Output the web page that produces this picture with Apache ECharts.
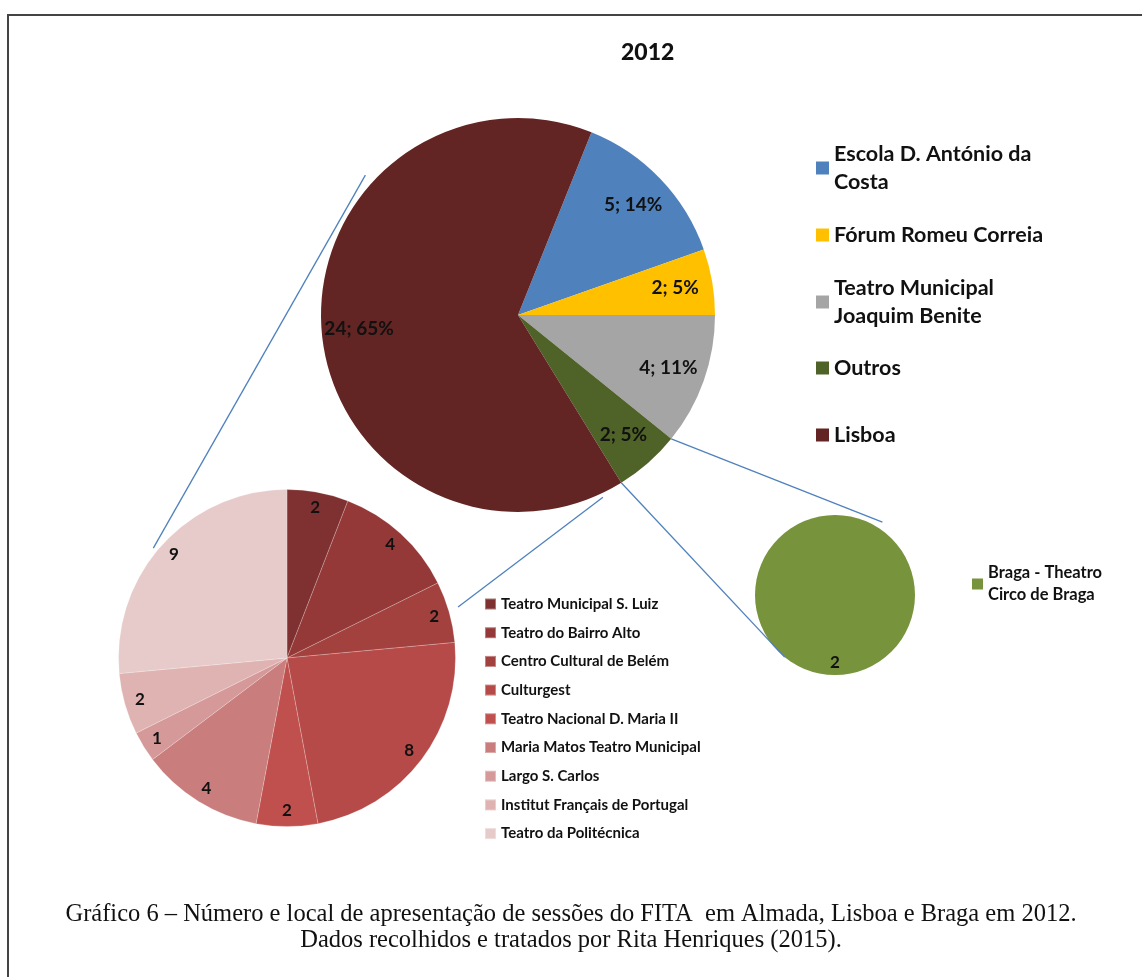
<!DOCTYPE html>
<html>
<head>
<meta charset="utf-8">
<script src="https://cdn.jsdelivr.net/npm/echarts@6/dist/echarts.min.js"></script>
<style>
  html, body { margin: 0; padding: 0; background: #fff; }
  #chart { width: 1142px; height: 977px; }
</style>
</head>
<body>
<div id="chart"></div>
<script>
// dados principais (2012)
var mainNames = ['Escola D. António da Costa', 'Fórum Romeu Correia', 'Teatro Municipal Joaquim Benite', 'Outros', 'Lisboa'];
var mainValues = [5, 2, 4, 2, 24];
var mainColors = ['#4f81bd', '#ffc000', '#a5a5a5', '#4f6228', '#632523'];

// Lisboa
var lisNames = ['Teatro Municipal S. Luiz', 'Teatro do Bairro Alto', 'Centro Cultural de Belém', 'Culturgest',
  'Teatro Nacional D. Maria II', 'Maria Matos Teatro Municipal', 'Largo S. Carlos',
  'Institut Français de Portugal', 'Teatro da Politécnica'];
var lisValues = [2, 4, 2, 8, 2, 4, 1, 2, 9];
var lisColors = ['#7f3131', '#943937', '#a3413f', '#b54a48', '#c0504d', '#c97d7c', '#d5999a', '#dfb3b2', '#e6cbca'];

// Outros
var bragaNames = ['Braga - Theatro Circo de Braga'];
var bragaValues = [2];
var bragaColors = ['#77933c'];

// legendas com quebra de linha como no original
var legendText = {
  'Escola D. António da Costa': 'Escola D. António da\nCosta',
  'Teatro Municipal Joaquim Benite': 'Teatro Municipal\nJoaquim Benite',
  'Braga - Theatro Circo de Braga': 'Braga - Theatro\nCirco de Braga'
};

var FONT = 'Lato';
var mainC = [518, 315], mainR = 197;
var lisC = [287, 658], lisR = 168.5;
var braC = [835, 595], braR = 80;
var mainStart = 21.9; // graus a partir do norte, sentido horario

function mkData(names, values, colors) {
  return names.map(function (n, i) {
    return { name: n, value: values[i], itemStyle: { color: colors[i] } };
  });
}
function pt(c, r, deg) {
  var a = deg * Math.PI / 180;
  return [c[0] + r * Math.sin(a), c[1] - r * Math.cos(a)];
}
function line(p1, p2) {
  return {
    type: 'line', silent: true, z: 10,
    shape: { x1: p1[0], y1: p1[1], x2: p2[0], y2: p2[1] },
    style: { stroke: '#4f81bd', lineWidth: 1.3 }
  };
}

// angulos das fronteiras da fatia "Outros"
var total = mainValues.reduce(function (a, b) { return a + b; }, 0);
var cum = mainStart, bounds = [];
mainValues.forEach(function (v) { cum += v / total * 360; bounds.push(cum); });
var outrosStart = bounds[2], outrosEnd = bounds[3];

var chart = echarts.init(document.getElementById('chart'));

function legendFor(name, left, top, size, lh, fs, twoLines) {
  return {
    data: [name],
    left: left, top: top, orient: 'vertical', padding: 0,
    itemWidth: size, itemHeight: size, icon: 'rect',
    selectedMode: false,
    formatter: function (n) { return legendText[n] || n; },
    textStyle: {
      fontFamily: FONT, fontWeight: 'bold', fontSize: fs, color: '#111',
      lineHeight: lh, padding: twoLines ? [lh, 0, 0, 0] : 0
    }
  };
}

var labelSeries = function (names, values, center, r0, r1, startDeg, fs, fmt) {
  return {
    type: 'pie', center: center, radius: [r0, r1], startAngle: 90 - startDeg, clockwise: true,
    silent: true, legendHoverLink: false, z: 5,
    data: names.map(function (n, i) { return { name: n, value: values[i] }; }),
    itemStyle: { color: 'rgba(0,0,0,0)' },
    label: { show: true, position: 'inside', fontFamily: FONT, fontWeight: 'bold', fontSize: fs, color: '#111', formatter: fmt },
    labelLine: { show: false },
    emphasis: { disabled: true }
  };
};

var option = {
  animation: false,
  backgroundColor: '#fff',
  title: {
    text: '2012', left: 621, top: 41, padding: 0,
    textStyle: { fontFamily: FONT, fontWeight: 900, fontSize: 23, color: '#111' }
  },
  legend: [
    legendFor(mainNames[0], 816, 168 - 42, 13, 28, 21.5, true),
    legendFor(mainNames[1], 816, 235 - 14, 13, 28, 21.5, false),
    legendFor(mainNames[2], 816, 302 - 42, 13, 28, 21.5, true),
    legendFor(mainNames[3], 816, 368 - 14, 13, 28, 21.5, false),
    legendFor(mainNames[4], 816, 435 - 14, 13, 28, 21.5, false),
    {
      data: lisNames, left: 484, top: 595, orient: 'vertical', padding: 0,
      itemWidth: 11, itemHeight: 11, itemGap: 10.7, icon: 'rect', selectedMode: false,
      textStyle: { fontFamily: FONT, fontWeight: 'bold', fontSize: 15, color: '#111', lineHeight: 18 }
    },
    legendFor(bragaNames[0], 972, 584 - 33, 11, 22, 16.5, true)
  ],
  graphic: [
    {
      type: 'rect', silent: true,
      shape: { x: 8, y: 15, width: 1200, height: 1000 },
      style: { fill: 'none', stroke: '#444', lineWidth: 2 }
    },
    line(pt(mainC, 207, 312.5), pt(lisC, 173, 309.4)),
    line(pt(mainC, 201, 155), pt(lisC, 178.5, 73.4)),
    line(pt(mainC, mainR, outrosStart), pt(braC, 87, 33)),
    line(pt(mainC, mainR, outrosEnd), pt(braC, 80, 219)),
    {
      type: 'text', silent: true, x: 571, y: 928,
      style: {
        text: 'Gráfico 6 – Número e local de apresentação de sessões do FITA  em Almada, Lisboa e Braga em 2012.\nDados recolhidos e tratados por Rita Henriques (2015).',
        font: '24.5px "Liberation Serif"', fill: '#111', align: 'center', verticalAlign: 'middle', lineHeight: 26
      }
    }
  ],
  series: [
    {
      type: 'pie', center: mainC, radius: mainR, startAngle: 90 - mainStart, clockwise: true,
      data: mkData(mainNames, mainValues, mainColors),
      label: { show: false }, labelLine: { show: false }, silent: true
    },
    {
      type: 'pie', center: lisC, radius: lisR, startAngle: 90, clockwise: true,
      data: mkData(lisNames, lisValues, lisColors),
      itemStyle: { borderColor: 'rgba(255,255,255,0.35)', borderWidth: 0.6 },
      label: { show: false }, labelLine: { show: false }, silent: true
    },
    {
      type: 'pie', center: braC, radius: braR, startAngle: 90, clockwise: true,
      data: mkData(bragaNames, bragaValues, bragaColors),
      label: { show: false }, labelLine: { show: false }, silent: true
    },
    labelSeries(mainNames, mainValues, mainC, 116, mainR, mainStart, 19, function (p) {
      return p.value + '; ' + Math.round(p.percent) + '%';
    }),
    labelSeries(lisNames, lisValues, lisC, 131.5, lisR, 0, 17, '{c}'),
    labelSeries(bragaNames, bragaValues, braC, 50, braR, 0, 17, '{c}')
  ]
};
chart.setOption(option);
</script>
</body>
</html>
